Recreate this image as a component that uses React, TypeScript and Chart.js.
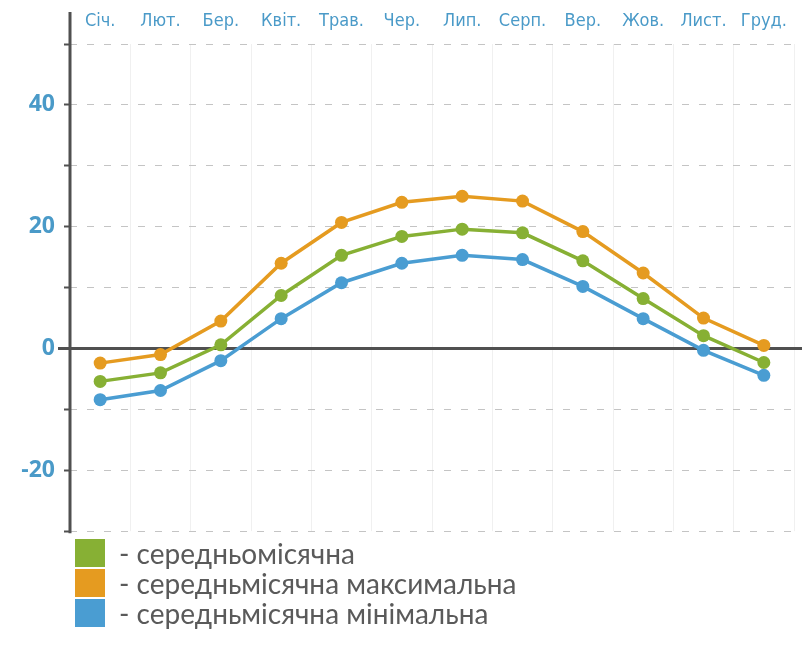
import React, { useEffect, useRef } from "react";
import { Chart, registerables } from "chart.js";

Chart.register(...registerables);

const months = ["Січ.", "Лют.", "Бер.", "Квіт.", "Трав.", "Чер.", "Лип.", "Серп.", "Вер.", "Жов.", "Лист.", "Груд."];
const meanTemp = [-5.4, -4, 0.6, 8.7, 15.3, 18.4, 19.6, 19, 14.4, 8.2, 2.1, -2.3];
const maxTemp = [-2.4, -1, 4.5, 14, 20.7, 24, 25, 24.2, 19.2, 12.4, 5, 0.5];
const minTemp = [-8.4, -6.9, -2, 4.9, 10.8, 14, 15.3, 14.6, 10.2, 4.9, -0.3, -4.4];
const seriesLabels = ["- середньомісячна", "- середньмісячна максимальна", "- середньмісячна мінімальна"];
const seriesColors = ["#87B034", "#E59B20", "#4A9DD2"];

const axisPlugin = {
  id: "axisLines",
  beforeDatasetsDraw(chart: any) {
    const { ctx, chartArea, scales } = chart;
    const y0 = scales.y.getPixelForValue(0);
    ctx.save();
    ctx.strokeStyle = "#505050";
    ctx.lineWidth = 3;
    ctx.beginPath();
    ctx.moveTo(58, y0);
    ctx.lineTo(chart.width, y0);
    ctx.stroke();
    ctx.beginPath();
    ctx.moveTo(chartArea.left, 12);
    ctx.lineTo(chartArea.left, chartArea.bottom + 2);
    ctx.stroke();
    ctx.restore();
  },
};

export default function App() {
  const ref = useRef<HTMLCanvasElement>(null);
  useEffect(() => {
    if (!ref.current) return;
    const chart = new Chart(ref.current, {
      type: "line",
      data: {
        labels: months,
        datasets: [
          { label: seriesLabels[1], data: maxTemp, borderColor: seriesColors[1], backgroundColor: seriesColors[1] },
          { label: seriesLabels[0], data: meanTemp, borderColor: seriesColors[0], backgroundColor: seriesColors[0] },
          { label: seriesLabels[2], data: minTemp, borderColor: seriesColors[2], backgroundColor: seriesColors[2] },
        ].map((d) => ({ ...d, borderWidth: 3.5, pointRadius: 6.5, pointHoverRadius: 6.5, tension: 0, pointBorderWidth: 0 })),
      },
      options: {
        responsive: false,
        animation: false,
        layout: { padding: { left: 0, right: 8, top: 0, bottom: 4 } },
        plugins: { legend: { display: false }, tooltip: { enabled: false } },
        scales: {
          x: {
            position: "top",
            offset: true,
            border: { display: false },
            grid: { offset: true, color: "#f0f0f0", lineWidth: 1, drawTicks: false },
            ticks: { color: "#4A9AC8", padding: 12, font: { family: "DejaVu Sans Condensed", size: 18 }, maxRotation: 0, autoSkip: false },
            afterFit: (s: any) => { s.height = 44; },
          },
          y: {
            min: -30,
            max: 50,
            border: { display: false, dash: [7, 10] },
            grid: {
              color: (c: any) => (c.tick && c.tick.value === 0 ? "rgba(0,0,0,0)" : "#c4c4c4"),
              lineWidth: 1,
              drawTicks: true,
              tickLength: 6,
              tickColor: "#505050",
              tickWidth: 2,
              tickBorderDash: [],
            },
            ticks: {
              stepSize: 10,
              padding: 9,
              color: "#4A9AC8",
              font: { family: "Open Sans", size: 23, weight: "bold" },
              callback: (v: any) => (Number(v) % 20 === 0 ? String(v) : ""),
            },
            afterFit: (s: any) => { s.width = 70; },
          },
        },
      },
      plugins: [axisPlugin],
    });
    return () => chart.destroy();
  }, []);

  const order = [0, 1, 2];
  return (
    <div style={{ position: "absolute", left: 0, top: 0, width: 802, height: 647, background: "#fff" }}>
      <canvas ref={ref} width={802} height={554} style={{ display: "block", position: "absolute", left: 0, top: 0 }} />
      <div style={{ position: "absolute", left: 75, top: 538 }}>
        {order.map((i) => (
          <div key={i} style={{ display: "flex", alignItems: "center", height: 30 }}>
            <div style={{ width: 30, height: 28, background: seriesColors[i], marginRight: 14 }} />
            <span style={{ fontFamily: "Lato", fontSize: 28, color: "#5a5a5a", whiteSpace: "nowrap" }}>{seriesLabels[i]}</span>
          </div>
        ))}
      </div>
    </div>
  );
}
